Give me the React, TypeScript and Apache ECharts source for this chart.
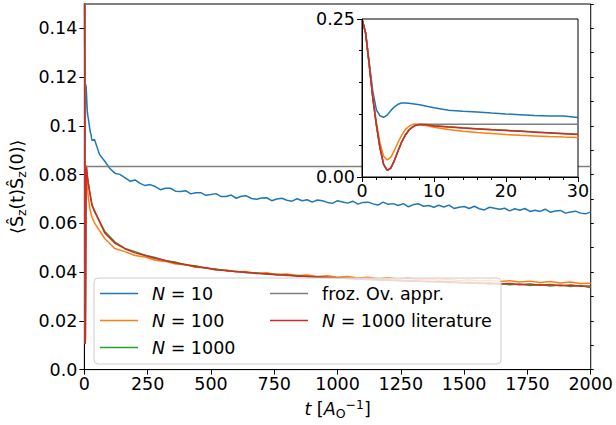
import { useEffect, useRef } from 'react';
import * as echarts from 'echarts';

// time grid of the inset / early part
const tInset = [0, 0.5, 1, 1.5, 2, 2.5, 3, 3.5, 4, 4.5, 5, 5.5, 6, 6.5, 7, 7.5, 8, 9, 10, 12, 14, 16, 18, 20, 22, 24, 26, 28, 30];

const n10Early = [0.25, 0.228, 0.182, 0.136, 0.106, 0.097, 0.0945, 0.098, 0.105, 0.111, 0.115, 0.117, 0.1172, 0.1168, 0.116, 0.1152, 0.1142, 0.1118, 0.1095, 0.1055, 0.104, 0.1028, 0.1012, 0.0998, 0.0985, 0.0972, 0.0966, 0.0965, 0.094];
const n100Early = [0.25, 0.228, 0.178, 0.127, 0.086, 0.054, 0.033, 0.027, 0.031, 0.042, 0.055, 0.066, 0.075, 0.08, 0.083, 0.0838, 0.0832, 0.081, 0.0788, 0.0752, 0.0725, 0.0704, 0.0688, 0.0672, 0.066, 0.065, 0.064, 0.0632, 0.0625];
const n1000Early = [0.25, 0.228, 0.178, 0.125, 0.082, 0.046, 0.02, 0.0105, 0.014, 0.026, 0.041, 0.055, 0.066, 0.074, 0.079, 0.082, 0.083, 0.083, 0.0812, 0.0795, 0.0779, 0.0765, 0.0751, 0.0738, 0.0726, 0.0714, 0.0702, 0.069, 0.0678];
const frozenEarly = [0.25, 0.228, 0.178, 0.125, 0.082, 0.046, 0.02, 0.0105, 0.014, 0.026, 0.041, 0.055, 0.066, 0.074, 0.079, 0.082, 0.0833, 0.0833, 0.0833, 0.0833, 0.0833, 0.0833, 0.0833, 0.0833, 0.0833, 0.0833, 0.0833, 0.0833, 0.0833];
const literatureEarly = [0.25, 0.228, 0.178, 0.125, 0.082, 0.046, 0.02, 0.0105, 0.014, 0.026, 0.041, 0.055, 0.066, 0.074, 0.079, 0.082, 0.083, 0.0828, 0.0808, 0.079, 0.0774, 0.076, 0.0747, 0.0734, 0.0722, 0.071, 0.0698, 0.0686, 0.0674];

// long time part
const tLongN10 = Array.from({ length: 99 }, (_, i) => 40 + 20 * i);
const n10Late = [
  0.0944, 0.0882, 0.0856, 0.0826, 0.0806, 0.0801, 0.0788, 0.0773, 0.0778, 0.0764,
  0.0755, 0.0759, 0.0751, 0.0738, 0.0744, 0.0744, 0.0732, 0.0731, 0.0734, 0.0721,
  0.0726, 0.0726, 0.0715, 0.0718, 0.0722, 0.0710, 0.0710, 0.0716, 0.0703, 0.0711,
  0.0713, 0.0702, 0.0699, 0.0704, 0.0705, 0.0693, 0.0700, 0.0703, 0.0695, 0.0691,
  0.0701, 0.0693, 0.0697, 0.0687, 0.0696, 0.0693, 0.0686, 0.0682, 0.0693, 0.0688,
  0.0683, 0.0691, 0.0679, 0.0686, 0.0687, 0.0680, 0.0675, 0.0687, 0.0678, 0.0681,
  0.0673, 0.0681, 0.0668, 0.0677, 0.0680, 0.0670, 0.0673, 0.0666, 0.0674, 0.0667,
  0.0675, 0.0661, 0.0666, 0.0669, 0.0661, 0.0670, 0.0660, 0.0655, 0.0666, 0.0662,
  0.0658, 0.0662, 0.0651, 0.0660, 0.0654, 0.0661, 0.0649, 0.0654, 0.0649, 0.0658,
  0.0646, 0.0651, 0.0653, 0.0642, 0.0647, 0.0650, 0.0642, 0.0639, 0.0647,
];
const tLong = Array.from({ length: 50 }, (_, i) => 40 + 40 * i);
const n100Late = [
  0.0602, 0.0538, 0.0497, 0.0484, 0.0468, 0.0462, 0.0449, 0.0444, 0.0433, 0.0430,
  0.0420, 0.0418, 0.0409, 0.0409, 0.0401, 0.0402, 0.0395, 0.0397, 0.0390, 0.0392,
  0.0386, 0.0388, 0.0382, 0.0385, 0.0379, 0.0382, 0.0376, 0.0379, 0.0373, 0.0377,
  0.0371, 0.0375, 0.0369, 0.0373, 0.0367, 0.0371, 0.0365, 0.0369, 0.0363, 0.0367,
  0.0361, 0.0365, 0.0359, 0.0363, 0.0357, 0.0361, 0.0355, 0.0359, 0.0353, 0.0354,
];
const n1000Late = [
  0.0648, 0.0568, 0.0524, 0.0497, 0.0484, 0.0469, 0.0460, 0.0447, 0.0441, 0.0429,
  0.0426, 0.0416, 0.0413, 0.0405, 0.0404, 0.0397, 0.0397, 0.0391, 0.0391, 0.0386,
  0.0386, 0.0381, 0.0381, 0.0377, 0.0377, 0.0373, 0.0373, 0.0369, 0.0370, 0.0366,
  0.0367, 0.0362, 0.0364, 0.0359, 0.0361, 0.0356, 0.0358, 0.0353, 0.0356, 0.0350,
  0.0353, 0.0348, 0.0351, 0.0345, 0.0349, 0.0343, 0.0347, 0.0341, 0.0345, 0.0336,
];
const literatureLate = [
  0.0652, 0.0562, 0.0519, 0.0496, 0.0479, 0.0468, 0.0456, 0.0448, 0.0437, 0.0431,
  0.0422, 0.0418, 0.0410, 0.0407, 0.0401, 0.0399, 0.0394, 0.0393, 0.0388, 0.0388,
  0.0383, 0.0383, 0.0379, 0.0379, 0.0375, 0.0375, 0.0371, 0.0372, 0.0368, 0.0369,
  0.0365, 0.0366, 0.0362, 0.0363, 0.0359, 0.0361, 0.0356, 0.0358, 0.0353, 0.0356,
  0.0351, 0.0353, 0.0348, 0.0351, 0.0346, 0.0349, 0.0344, 0.0347, 0.0342, 0.0343,
];
const tFrozenLate = [2000];
const frozenLate = [0.0833];

const seriesNames = ['N = 10', 'N = 100', 'N = 1000', 'froz. Ov. appr.', 'N = 1000 literature'];
const seriesColors = ['#1f77b4', '#ff7f0e', '#2ca02c', '#7f7f7f', '#d62728'];

const pts = (ts: number[], vs: number[]) => ts.map((t, i) => [t, vs[i]]);

const FONT = 'DejaVu Sans';
const FS = 17.5;

export default function App() {
  const ref = useRef<HTMLDivElement>(null);
  useEffect(() => {
    if (!ref.current) return;
    const chart = echarts.init(ref.current, undefined, { renderer: 'svg' });

    const mainData = [
      pts(tInset, n10Early).concat(pts(tLongN10, n10Late)),
      pts(tInset, n100Early).concat(pts(tLong, n100Late)),
      pts(tInset, n1000Early).concat(pts(tLong, n1000Late)),
      pts(tInset, frozenEarly).concat(pts(tFrozenLate, frozenLate)),
      pts(tInset, literatureEarly).concat(pts(tLong, literatureLate)),
    ];
    const insetData = [
      pts(tInset, n10Early),
      pts(tInset, n100Early),
      pts(tInset, n1000Early),
      pts(tInset, frozenEarly),
      pts(tInset, literatureEarly),
    ];

    const axisLine = { show: true, lineStyle: { color: '#000', width: 1 } };
    const tickStyle = { color: '#000', width: 1 };
    const labelBase = { color: '#000', fontFamily: FONT, fontSize: FS };

    const series: any[] = [];
    seriesNames.forEach((name, i) => {
      series.push({
        type: 'line', name, xAxisIndex: 0, yAxisIndex: 0, data: mainData[i],
        symbol: 'none', showSymbol: false, clip: true,
        lineStyle: { color: seriesColors[i], width: 1.5 }, itemStyle: { color: seriesColors[i] },
        z: 2,
      });
    });
    seriesNames.forEach((name, i) => {
      series.push({
        type: 'line', name, xAxisIndex: 1, yAxisIndex: 2, data: insetData[i],
        symbol: 'none', showSymbol: false, clip: true,
        lineStyle: { color: seriesColors[i], width: 1.5 }, itemStyle: { color: seriesColors[i] },
        z: 7,
      });
    });

    const legendRich = {
      i: { fontFamily: FONT, fontSize: FS, fontStyle: 'italic', color: '#000' },
      g: { width: 9 },
    };
    const legendFormatter = (name: string) =>
      name.startsWith('N') ? '{g|}{i|N}' + name.slice(1) : '{g|}' + name;
    const legendItems = (names: string[]) =>
      names.map((n) => ({
        name: n,
        icon: 'rect',
        itemStyle: { color: seriesColors[seriesNames.indexOf(n)] },
      }));
    const legendCommon = {
      orient: 'vertical',
      itemWidth: 38,
      itemHeight: 1.5,
      itemGap: 8,
      padding: 0,
      z: 12,
      selectedMode: false,
      textStyle: { fontFamily: FONT, fontSize: FS, color: '#000', lineHeight: 19, rich: legendRich },
      formatter: legendFormatter,
    };

    chart.setOption({
      animation: false,
      backgroundColor: '#fff',
      grid: [
        { left: 84, right: 24, top: 4, bottom: 52, show: true, borderColor: '#000', borderWidth: 1, backgroundColor: 'transparent', z: 0 },
        { left: 362, top: 19, width: 216, height: 158, show: true, borderColor: '#000', borderWidth: 1, backgroundColor: '#fff', z: 5 },
      ],
      xAxis: [
        {
          gridIndex: 0, type: 'value', min: 0, max: 2000, interval: 250,
          axisLine, axisTick: { show: true, length: 5, lineStyle: tickStyle },
          splitLine: { show: false },
          axisLabel: { ...labelBase, margin: 5, formatter: (v: number) => String(v) },
          name: '{i|t} [{i|A}{sub|O}{sup|−1}]',
          nameLocation: 'middle', nameGap: 21,
          nameTextStyle: {
            ...labelBase,
            rich: {
              i: { fontFamily: FONT, fontSize: FS, fontStyle: 'italic', color: '#000' },
              sub: { fontFamily: FONT, fontSize: 12.5, color: '#000', padding: [9, 0, 0, 0] },
              sup: { fontFamily: FONT, fontSize: 12.5, color: '#000', padding: [0, 0, 10, 0] },
            },
          },
        },
        {
          gridIndex: 1, type: 'value', min: 0, max: 30, interval: 10, z: 8,
          axisLine, axisTick: { show: true, length: 5, lineStyle: tickStyle },
          minorTick: { show: true, splitNumber: 5, length: 3, lineStyle: tickStyle },
          splitLine: { show: false }, minorSplitLine: { show: false },
          axisLabel: { ...labelBase, margin: 5 },
        },
      ],
      yAxis: [
        {
          gridIndex: 0, type: 'value', min: 0, max: 0.15, interval: 0.02,
          axisLine, axisTick: { show: true, length: 5, lineStyle: tickStyle },
          splitLine: { show: false },
          axisLabel: {
            ...labelBase, margin: 7, showMaxLabel: false,
            formatter: (v: number) => (v === 0 ? '0.0' : String(parseFloat(v.toFixed(2)))),
          },
          name: '⟨{b|Ŝ}{s|z}(t){b|Ŝ}{s|z}(0)⟩',
          nameLocation: 'middle', nameGap: 55,
          nameTextStyle: {
            ...labelBase,
            rich: {
              b: { fontFamily: FONT, fontSize: FS, color: '#000' },
              s: { fontFamily: FONT, fontSize: 12.5, color: '#000', padding: [8, 0, 0, 0] },
            },
          },
        },
        {
          gridIndex: 0, type: 'value', min: 0, max: 0.15, interval: 0.01,
          axisLine: { show: false }, axisTick: { show: true, length: 3, lineStyle: tickStyle },
          splitLine: { show: false }, axisLabel: { show: false },
        },
        {
          gridIndex: 1, type: 'value', min: 0, max: 0.25, interval: 0.25, z: 8,
          axisLine, axisTick: { show: true, length: 5, lineStyle: tickStyle },
          minorTick: { show: true, splitNumber: 5, length: 3, lineStyle: tickStyle },
          splitLine: { show: false }, minorSplitLine: { show: false },
          axisLabel: { ...labelBase, margin: 7, formatter: (v: number) => v.toFixed(2) },
        },
      ],
      legend: [
        { ...legendCommon, left: 100, top: 284, data: legendItems(seriesNames.slice(0, 3)) },
        { ...legendCommon, left: 270, top: 284, data: legendItems(seriesNames.slice(3)) },
      ],
      graphic: [
        {
          type: 'rect', z: 10,
          shape: { x: 94, y: 278, width: 407, height: 86, r: 4 },
          style: { fill: 'rgba(255,255,255,0.8)', stroke: '#cccccc', lineWidth: 1 },
        },
      ],
      series,
    });

    return () => chart.dispose();
  }, []);

  return <div ref={ref} style={{ position: 'fixed', left: 0, top: 0, width: 616, height: 425 }} />;
}
